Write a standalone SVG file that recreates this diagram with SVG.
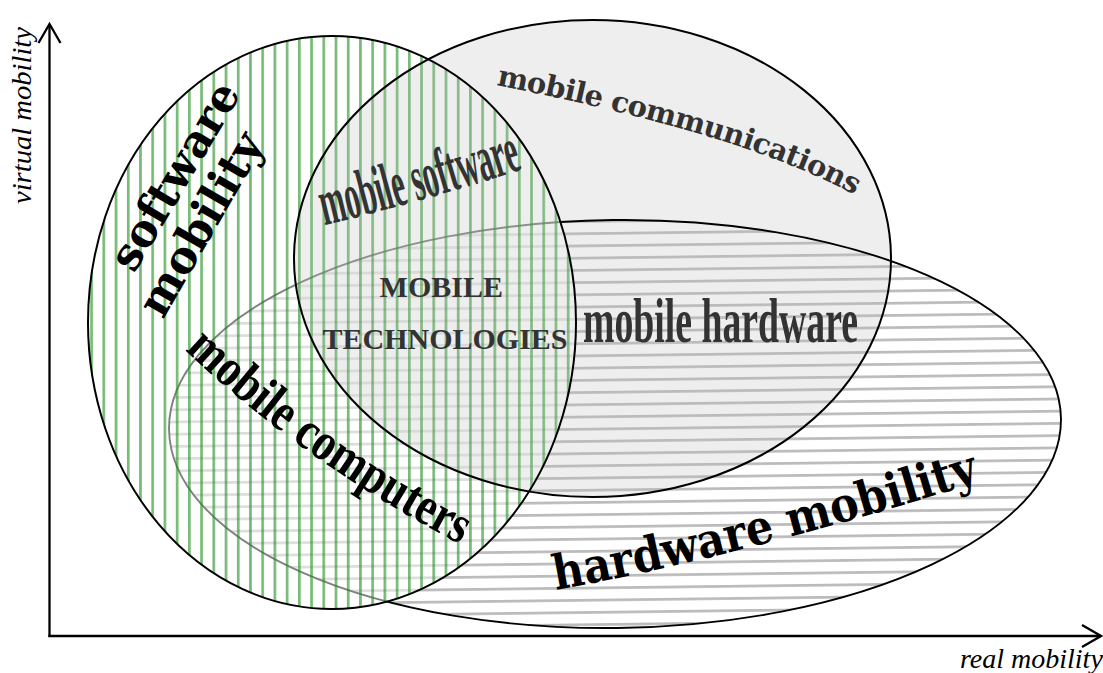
<svg xmlns="http://www.w3.org/2000/svg" width="1103" height="673" viewBox="0 0 1103 673">
  <defs>
    <style>
      .outline { fill: none; stroke: #000; stroke-width: 2; }
      .axis { fill: none; stroke: #000; stroke-width: 2.3; }
      .wide { font-family: "DejaVu Serif", "Liberation Serif", serif; font-weight: bold; }
      .narrow { font-family: "Liberation Serif", "Times New Roman", serif; font-weight: bold; }
      .axis-label { font-family: "Liberation Serif", "Times New Roman", serif; font-style: italic; font-size: 28px; fill: #000; }
      .dim { fill: #333; }
      .dark { fill: #000; }
    </style>
    <!-- horizontal grey hatching of the hardware field -->
    <pattern id="hatch-h" patternUnits="userSpaceOnUse" x="0" y="-0.25" width="50" height="12.22">
      <rect x="0" y="0" width="50" height="2.7" fill="#bbb"/>
    </pattern>
    <!-- vertical green hatching of the software field -->
    <pattern id="hatch-v" patternUnits="userSpaceOnUse" x="0" y="0" width="12.22" height="50">
      <rect x="4.7" y="0" width="2.7" height="50" fill="#1e8c1e" fill-opacity="0.6"/>
    </pattern>
    <clipPath id="clip-software">
      <ellipse cx="332" cy="322.5" rx="244" ry="286.5"/>
    </clipPath>
    <marker id="chevron" markerUnits="userSpaceOnUse" markerWidth="26" markerHeight="28" viewBox="-22 -14 26 28" refX="0" refY="0" orient="auto" overflow="visible">
      <path d="M-19,-11 L0,0 L-19,11" fill="none" stroke="#000" stroke-width="2.3"/>
    </marker>
    <path id="arc-comm" d="M496,85 Q743.6,134 855,195 L885,212"/>
    <path id="arc-hw" d="M556,590 Q734.6,558 975,483 L1010,472"/>
    <path id="arc-comp" d="M185,350 Q298,458 452,540 L480,555"/>
    <path id="arc-sw" d="M325,225 Q410,205 527,168 L560,157"/>
  </defs>

  <!-- communications field: flat grey base -->
  <g id="communications-fill">
    <ellipse cx="592.5" cy="258.5" rx="298.5" ry="238.5" fill="#eee"/>
  </g>

  <!-- hardware mobility field -->
  <g id="hardware-mobility">
    <ellipse cx="615" cy="424" rx="446" ry="204" transform="rotate(-0.7 615 424)" fill="url(#hatch-h)" stroke="#000" stroke-width="1.9"/>
  </g>

  <!-- software mobility field -->
  <g id="software-mobility">
    <ellipse cx="332" cy="322.5" rx="244" ry="286.5" fill="#fff" fill-opacity="0.5"/>
    <ellipse cx="332" cy="322.5" rx="244" ry="286.5" fill="url(#hatch-v)"/>
    <!-- grey tint where the communications field overlaps -->
    <ellipse cx="592.5" cy="258.5" rx="298.5" ry="238.5" fill="#ccc" fill-opacity="0.2" clip-path="url(#clip-software)"/>
    <ellipse class="outline" cx="332" cy="322.5" rx="244" ry="286.5"/>
  </g>

  <!-- communications field outline -->
  <g id="mobile-communications">
    <ellipse class="outline" cx="592.5" cy="258.5" rx="298.5" ry="238.5"/>
  </g>

  <!-- axes -->
  <g id="connectors">
    <path class="axis" d="M49.5,637 L49.5,24" marker-end="url(#chevron)"/>
    <path class="axis" d="M48.4,636 L1101,636" marker-end="url(#chevron)"/>
  </g>

  <g id="labels">
    <text class="axis-label" transform="translate(31,115.5) rotate(-90)" text-anchor="middle" textLength="177" lengthAdjust="spacingAndGlyphs">virtual mobility</text>
    <text class="axis-label" x="960" y="668">real mobility</text>

    <text class="wide dark" font-size="45" transform="translate(134,274) rotate(-59.2)" textLength="210" lengthAdjust="spacingAndGlyphs">software</text>
    <text class="wide dark" font-size="45" transform="translate(163,320) rotate(-60)" textLength="204" lengthAdjust="spacingAndGlyphs">mobility</text>

    <text class="narrow dim" font-size="66"><textPath href="#arc-sw" textLength="206" lengthAdjust="spacingAndGlyphs">mobile software</textPath></text>

    <text class="wide dim" font-size="29" letter-spacing="-0.7"><textPath href="#arc-comm">mobile communications</textPath></text>

    <text class="narrow dim" font-size="64" x="583" y="342" textLength="275" lengthAdjust="spacingAndGlyphs">mobile hardware</text>

    <text class="narrow dim" font-size="30" text-anchor="middle">
      <tspan x="445" y="296.7">MOBILE</tspan>
      <tspan x="445" y="349.3">TECHNOLOGIES</tspan>
    </text>

    <text class="narrow dark" font-size="54"><textPath href="#arc-comp" textLength="338" lengthAdjust="spacingAndGlyphs">mobile computers</textPath></text>

    <text class="wide dark" font-size="48"><textPath href="#arc-hw" textLength="438" lengthAdjust="spacingAndGlyphs">hardware mobility</textPath></text>
  </g>
</svg>
